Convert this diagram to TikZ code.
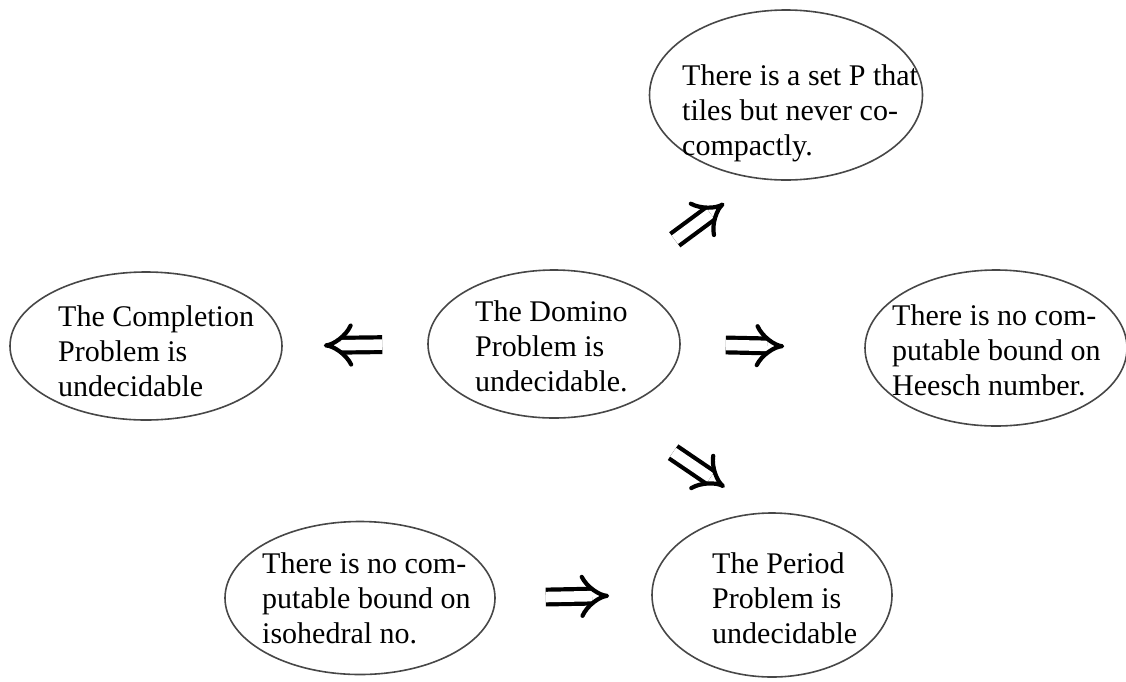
\documentclass[tikz,border=0pt]{standalone}
\usepackage{fontspec}
\setmainfont{Liberation Serif}
\usetikzlibrary{positioning, shapes, arrows.meta, calc}

\tikzset{
  bubble/.style={ellipse, draw=black!72, line width=1.6pt, inner sep=0pt},
  bubbletext/.style={anchor=north west, inner sep=0pt, align=left,
    font=\fontsize{30}{35}\selectfont},
  implies/.style={double, double distance=10.5pt, line width=4.2pt, -{Implies}}
}

\begin{document}
\begin{tikzpicture}[x=1pt, y=-1pt]
\useasboundingbox (0,0) rectangle (1126,681);

% Ellipses
\node[bubble, minimum width=273pt, minimum height=170pt] (topP) at (786,95) {};
\node[bubble, minimum width=272pt, minimum height=148pt] (completion) at (146,346) {};
\node[bubble, minimum width=252pt, minimum height=148pt] (domino) at (554,344) {};
\node[bubble, minimum width=262pt, minimum height=156pt] (heesch) at (996,348) {};
\node[bubble, minimum width=270pt, minimum height=153pt] (isohedral) at (360,598) {};
\node[bubble, minimum width=240pt, minimum height=164pt] (period) at (772,595) {};

% Texts
\node[bubbletext] (topPText) at (682,64.5) {There is a set P that\\tiles but never co-\\compactly.};
\node[bubbletext] (completionText) at (58,305.5) {The Completion\\Problem is\\undecidable};
\node[bubbletext] (dominoText) at (475,300) {The Domino\\Problem is\\undecidable.};
\node[bubbletext] (heeschText) at (892,304.5) {There is no com-\\putable bound on\\Heesch number.};
\node[bubbletext] (isohedralText) at (262,552.5) {There is no com-\\putable bound on\\isohedral no.};
\node[bubbletext] (periodText) at (712,552.5) {The Period\\Problem is\\undecidable};

% Implications
\draw[implies, shorten <=68pt, shorten >=41pt] (domino.44) -- (topP.251);
\draw[implies, shorten <=45pt, shorten >=41pt] (domino.west) -- (completion.east);
\draw[implies, shorten <=45pt, shorten >=80pt] (domino.east) -- (heesch.west);
\draw[implies, shorten <=74pt, shorten >=45pt] (domino.311) -- (period.97);
\draw[implies, shorten <=50pt, shorten >=42pt] (isohedral.east) -- (period.west);

\end{tikzpicture}
\end{document}
